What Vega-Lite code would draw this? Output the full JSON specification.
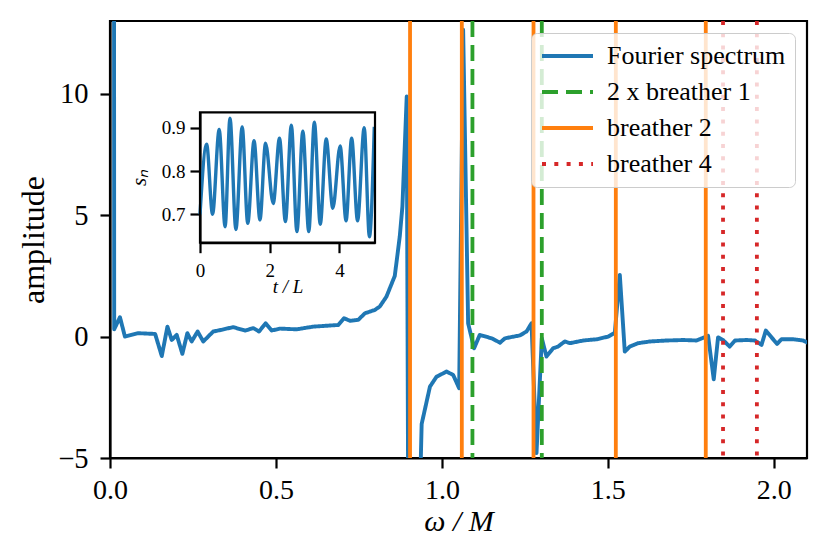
{
  "$schema": "https://vega.github.io/schema/vega-lite/v6.json",
  "width": 697,
  "height": 437,
  "autosize": "none",
  "padding": {"left": 110, "top": 21, "right": 22, "bottom": 100},
  "background": "white",
  "config": {
    "view": {"stroke": "black", "strokeWidth": 2.2},
    "font": "Liberation Serif",
    "axis": {
      "domainColor": "black", "domainWidth": 2.2, "tickColor": "black", "tickWidth": 2.2,
      "labelColor": "black", "titleColor": "black", "grid": false, "labelFlush": false,
      "labelFont": "Liberation Serif", "titleFont": "Liberation Serif", "titleFontWeight": "normal"
    },
    "legend": {
      "orient": "top-right", "offset": 12,
      "symbolType": "stroke", "symbolSize": 2600, "symbolStrokeWidth": 3.8,
      "labelFontSize": 26, "labelFont": "Liberation Serif", "labelColor": "black",
      "labelOffset": 12, "labelLimit": 400, "padding": 9, "rowPadding": 8, "clipHeight": 28,
      "fillColor": "rgba(255,255,255,0.8)", "strokeColor": "#cccccc", "cornerRadius": 6
    }
  },
  "datasets": {
    "spectrum": [
      {"omega": 0.0, "amplitude": 400},
      {"omega": 0.0126, "amplitude": 0.3},
      {"omega": 0.030, "amplitude": 0.80},
      {"omega": 0.045, "amplitude": 0.0},
      {"omega": 0.085, "amplitude": 0.14},
      {"omega": 0.136, "amplitude": 0.11},
      {"omega": 0.156, "amplitude": -0.80},
      {"omega": 0.173, "amplitude": 0.41},
      {"omega": 0.186, "amplitude": -0.14},
      {"omega": 0.201, "amplitude": 0.07},
      {"omega": 0.218, "amplitude": -0.71},
      {"omega": 0.233, "amplitude": 0.14},
      {"omega": 0.246, "amplitude": -0.2},
      {"omega": 0.264, "amplitude": 0.21},
      {"omega": 0.281, "amplitude": -0.2},
      {"omega": 0.311, "amplitude": 0.21},
      {"omega": 0.336, "amplitude": 0.28},
      {"omega": 0.371, "amplitude": 0.39},
      {"omega": 0.407, "amplitude": 0.25},
      {"omega": 0.432, "amplitude": 0.35},
      {"omega": 0.449, "amplitude": 0.21},
      {"omega": 0.469, "amplitude": 0.55},
      {"omega": 0.487, "amplitude": 0.25},
      {"omega": 0.512, "amplitude": 0.33},
      {"omega": 0.562, "amplitude": 0.30},
      {"omega": 0.612, "amplitude": 0.41},
      {"omega": 0.688, "amplitude": 0.48},
      {"omega": 0.705, "amplitude": 0.76},
      {"omega": 0.723, "amplitude": 0.65},
      {"omega": 0.748, "amplitude": 0.69},
      {"omega": 0.768, "amplitude": 0.96},
      {"omega": 0.798, "amplitude": 1.1},
      {"omega": 0.813, "amplitude": 1.24},
      {"omega": 0.833, "amplitude": 1.65},
      {"omega": 0.858, "amplitude": 2.5},
      {"omega": 0.873, "amplitude": 4.12},
      {"omega": 0.881, "amplitude": 5.36},
      {"omega": 0.894, "amplitude": 9.89},
      {"omega": 0.907, "amplitude": -40},
      {"omega": 0.924, "amplitude": -12},
      {"omega": 0.939, "amplitude": -3.6},
      {"omega": 0.964, "amplitude": -2.06},
      {"omega": 0.984, "amplitude": -1.65},
      {"omega": 1.014, "amplitude": -1.44},
      {"omega": 1.034, "amplitude": -1.58},
      {"omega": 1.052, "amplitude": -2.13},
      {"omega": 1.064, "amplitude": 12.64},
      {"omega": 1.079, "amplitude": 0.55},
      {"omega": 1.097, "amplitude": -0.48},
      {"omega": 1.114, "amplitude": 0.07},
      {"omega": 1.150, "amplitude": -0.07},
      {"omega": 1.175, "amplitude": -0.25},
      {"omega": 1.190, "amplitude": -0.07},
      {"omega": 1.235, "amplitude": 0.05},
      {"omega": 1.255, "amplitude": 0.21},
      {"omega": 1.270, "amplitude": 0.55},
      {"omega": 1.285, "amplitude": -4.8},
      {"omega": 1.301, "amplitude": -0.07},
      {"omega": 1.315, "amplitude": -0.82},
      {"omega": 1.335, "amplitude": -0.48},
      {"omega": 1.350, "amplitude": -0.41},
      {"omega": 1.370, "amplitude": -0.2},
      {"omega": 1.386, "amplitude": -0.27},
      {"omega": 1.426, "amplitude": -0.16},
      {"omega": 1.466, "amplitude": -0.11},
      {"omega": 1.501, "amplitude": 0.0},
      {"omega": 1.521, "amplitude": 0.16},
      {"omega": 1.536, "amplitude": 2.54},
      {"omega": 1.551, "amplitude": -0.62},
      {"omega": 1.566, "amplitude": -0.41},
      {"omega": 1.591, "amplitude": -0.27},
      {"omega": 1.627, "amplitude": -0.2},
      {"omega": 1.677, "amplitude": -0.16},
      {"omega": 1.727, "amplitude": -0.14},
      {"omega": 1.767, "amplitude": -0.16},
      {"omega": 1.802, "amplitude": 0.03},
      {"omega": 1.819, "amplitude": -1.76},
      {"omega": 1.832, "amplitude": -0.03},
      {"omega": 1.847, "amplitude": -0.14},
      {"omega": 1.867, "amplitude": -0.41},
      {"omega": 1.883, "amplitude": -0.16},
      {"omega": 1.918, "amplitude": -0.14},
      {"omega": 1.943, "amplitude": -0.16},
      {"omega": 1.963, "amplitude": -0.34},
      {"omega": 1.976, "amplitude": 0.25},
      {"omega": 1.993, "amplitude": -0.03},
      {"omega": 2.010, "amplitude": -0.3},
      {"omega": 2.023, "amplitude": -0.11},
      {"omega": 2.058, "amplitude": -0.11},
      {"omega": 2.088, "amplitude": -0.16},
      {"omega": 2.110, "amplitude": -0.3}
    ],
    "lines": [
      {"omega": 1.092, "series": "2 x breather 1"},
      {"omega": 1.301, "series": "2 x breather 1"},
      {"omega": 0.904, "series": "breather 2"},
      {"omega": 1.060, "series": "breather 2"},
      {"omega": 1.276, "series": "breather 2"},
      {"omega": 1.524, "series": "breather 2"},
      {"omega": 1.795, "series": "breather 2"},
      {"omega": 1.847, "series": "breather 4"},
      {"omega": 1.949, "series": "breather 4"}
    ],
    "inset": [
      {"t": 0.0, "s": 0.70},
      {"t": 0.19, "s": 0.862},
      {"t": 0.36, "s": 0.70},
      {"t": 0.55, "s": 0.896},
      {"t": 0.72, "s": 0.671},
      {"t": 0.86, "s": 0.922},
      {"t": 1.03, "s": 0.665},
      {"t": 1.21, "s": 0.902},
      {"t": 1.37, "s": 0.679},
      {"t": 1.55, "s": 0.870},
      {"t": 1.72, "s": 0.687},
      {"t": 1.88, "s": 0.864},
      {"t": 2.10, "s": 0.725},
      {"t": 2.28, "s": 0.876},
      {"t": 2.45, "s": 0.683},
      {"t": 2.62, "s": 0.906},
      {"t": 2.78, "s": 0.660},
      {"t": 2.95, "s": 0.892},
      {"t": 3.12, "s": 0.660},
      {"t": 3.28, "s": 0.913},
      {"t": 3.45, "s": 0.677},
      {"t": 3.62, "s": 0.874},
      {"t": 3.81, "s": 0.714},
      {"t": 4.02, "s": 0.858},
      {"t": 4.19, "s": 0.685},
      {"t": 4.35, "s": 0.876},
      {"t": 4.52, "s": 0.685},
      {"t": 4.71, "s": 0.900},
      {"t": 4.86, "s": 0.648},
      {"t": 5.00, "s": 0.902}
    ]
  },
  "layer": [
    {
      "layer": [
        {
          "data": {"name": "spectrum"},
          "mark": {"type": "line", "clip": true, "strokeWidth": 3.9, "strokeJoin": "round"},
          "encoding": {
            "x": {
              "field": "omega", "type": "quantitative",
              "scale": {"domain": [0, 2.1], "nice": false, "zero": false},
              "axis": {
                "values": [0, 0.5, 1, 1.5, 2], "format": ".1f", "labelFontSize": 28,
                "tickSize": 10, "labelPadding": 8, "labelBaseline": "top",
                "title": "ω / M", "titleFontSize": 30, "titleFontStyle": "italic",
                "titleX": 348.5, "titleY": 72, "titleBaseline": "alphabetic", "titleAlign": "center"
              }
            },
            "y": {
              "field": "amplitude", "type": "quantitative",
              "scale": {"domain": [-5, 13], "nice": false, "zero": false},
              "axis": {
                "values": [-5, 0, 5, 10], "labelFontSize": 28.5, "tickSize": 10, "labelPadding": 12,
                "title": "amplitude", "titleFontSize": 32, "titleAngle": 270,
                "titleX": -67, "titleY": 218.5, "titleBaseline": "alphabetic", "titleAlign": "center"
              }
            },
            "color": {
              "datum": "Fourier spectrum", "title": null,
              "scale": {
                "domain": ["Fourier spectrum", "2 x breather 1", "breather 2", "breather 4"],
                "range": ["#1f77b4", "#2ca02c", "#ff7f0e", "#d62728"]
              }
            },
            "strokeDash": {
              "datum": "Fourier spectrum", "title": null,
              "scale": {
                "domain": ["Fourier spectrum", "2 x breather 1", "breather 2", "breather 4"],
                "range": [[1, 0], [16, 8], [1, 0], [4, 8.3]]
              }
            }
          }
        },
        {
          "data": {"name": "lines"},
          "mark": {"type": "rule", "strokeWidth": 3.8},
          "encoding": {
            "x": {"field": "omega", "type": "quantitative"},
            "color": {"field": "series", "type": "nominal", "title": null},
            "strokeDash": {"field": "series", "type": "nominal", "title": null}
          }
        }
      ]
    },
    {
      "layer": [
        {
          "data": {"name": "inset"},
          "mark": {"type": "line", "interpolate": "monotone", "strokeWidth": 3.4, "color": "#1f77b4"},
          "encoding": {
            "x": {
              "field": "t", "type": "quantitative",
              "scale": {"domain": [0, 5.02], "range": [90, 265], "nice": false, "zero": false},
              "axis": {
                "orient": "bottom", "offset": -215.3, "values": [0, 2, 4], "format": ".0f", "labelFontSize": 19,
                "tickSize": 10, "labelPadding": 9, "labelBaseline": "top",
                "title": "t / L", "titleFontSize": 19, "titleFontStyle": "italic",
                "titleX": 177.5, "titleY": 50, "titleBaseline": "alphabetic", "titleAlign": "center"
              }
            },
            "y": {
              "field": "s", "type": "quantitative",
              "scale": {"domain": [0.6344, 0.9356], "range": [221.7, 91.3], "nice": false, "zero": false},
              "axis": {
                "orient": "left", "offset": -90, "values": [0.7, 0.8, 0.9], "format": ".1f",
                "labelFontSize": 19, "tickSize": 10, "labelPadding": 5,
                "title": "sₙ", "titleFontSize": 21, "titleFontStyle": "italic", "titleAngle": 270,
                "titleX": -55, "titleY": 156.5, "titleBaseline": "alphabetic", "titleAlign": "center"
              }
            }
          }
        },
        {
          "data": {"values": [{}]},
          "mark": {"type": "rect", "fill": null, "fillOpacity": 0, "stroke": "black", "strokeWidth": 2.2},
          "encoding": {
            "x": {"datum": 0, "type": "quantitative"},
            "x2": {"datum": 5.02},
            "y": {"datum": 0.6344, "type": "quantitative"},
            "y2": {"datum": 0.9356}
          }
        }
      ]
    }
  ],
  "resolve": {
    "scale": {"x": "independent", "y": "independent"},
    "axis": {"x": "independent", "y": "independent"}
  }
}
